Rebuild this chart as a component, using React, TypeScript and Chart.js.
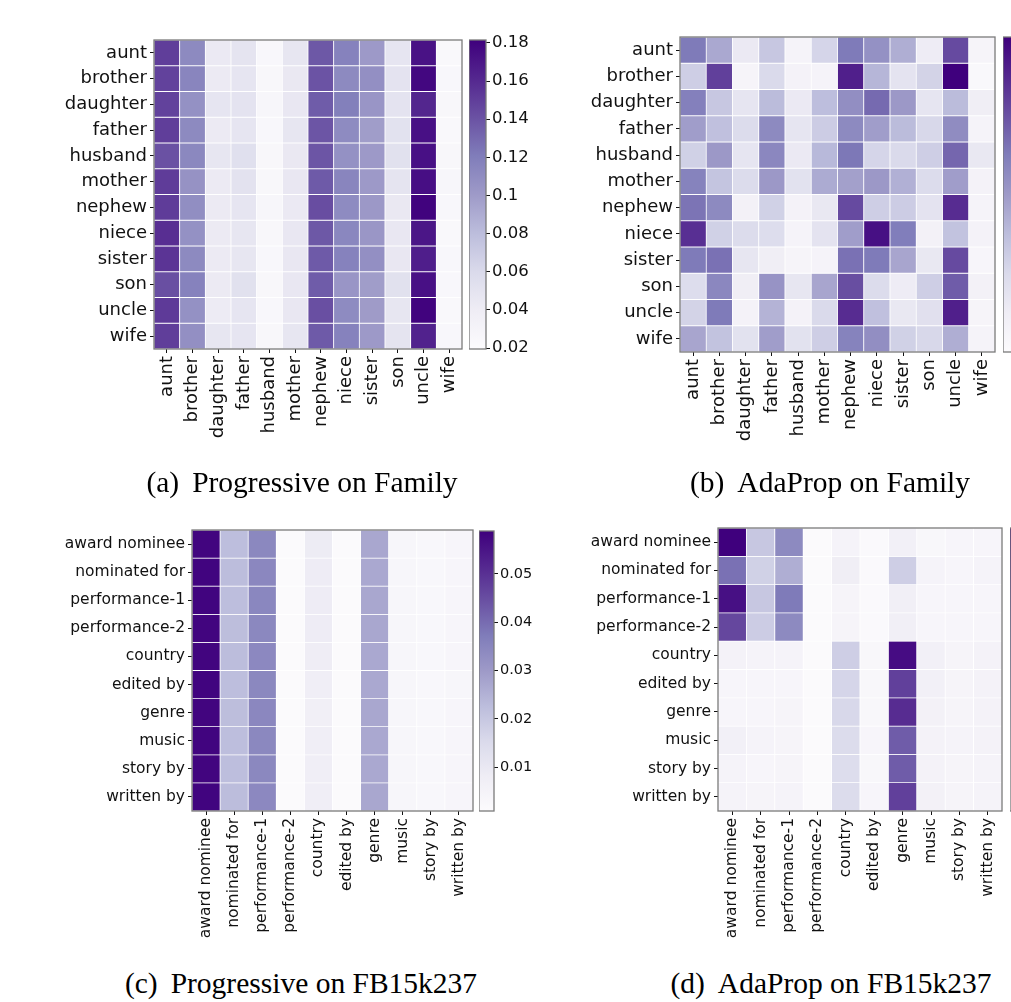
import React, { useEffect, useRef } from "react";
import { Chart, registerables } from "chart.js";
Chart.register(...registerables);

// ---------- data ----------
const familyRelations = ["aunt", "brother", "daughter", "father", "husband", "mother", "nephew", "niece", "sister", "son", "uncle", "wife"];
const fbRelations = ["award nominee", "nominated for", "performance-1", "performance-2", "country", "edited by", "genre", "music", "story by", "written by"];

const progressiveFamily = [
  [0.150, 0.112, 0.044, 0.049, 0.025, 0.047, 0.138, 0.117, 0.101, 0.048, 0.172, 0.024],
  [0.148, 0.115, 0.043, 0.048, 0.026, 0.045, 0.140, 0.112, 0.108, 0.050, 0.178, 0.025],
  [0.148, 0.107, 0.048, 0.050, 0.027, 0.046, 0.136, 0.119, 0.104, 0.050, 0.162, 0.026],
  [0.150, 0.112, 0.043, 0.048, 0.025, 0.047, 0.139, 0.111, 0.099, 0.052, 0.173, 0.024],
  [0.141, 0.113, 0.047, 0.054, 0.026, 0.045, 0.139, 0.107, 0.101, 0.053, 0.173, 0.026],
  [0.151, 0.106, 0.043, 0.051, 0.026, 0.046, 0.137, 0.115, 0.101, 0.049, 0.174, 0.027],
  [0.151, 0.109, 0.043, 0.048, 0.027, 0.044, 0.143, 0.111, 0.102, 0.045, 0.180, 0.025],
  [0.158, 0.107, 0.043, 0.047, 0.026, 0.046, 0.138, 0.114, 0.103, 0.046, 0.170, 0.024],
  [0.155, 0.112, 0.043, 0.047, 0.025, 0.046, 0.137, 0.117, 0.108, 0.046, 0.166, 0.025],
  [0.142, 0.117, 0.043, 0.053, 0.026, 0.046, 0.136, 0.104, 0.099, 0.053, 0.173, 0.025],
  [0.152, 0.107, 0.042, 0.048, 0.025, 0.046, 0.142, 0.111, 0.100, 0.047, 0.180, 0.024],
  [0.150, 0.108, 0.047, 0.048, 0.026, 0.047, 0.137, 0.117, 0.101, 0.049, 0.164, 0.025],
];

const adapropFamily = [
  [0.63, 0.45, 0.15, 0.33, 0.07, 0.27, 0.63, 0.54, 0.43, 0.13, 0.77, 0.06],
  [0.30, 0.80, 0.06, 0.25, 0.08, 0.07, 0.90, 0.40, 0.19, 0.28, 1.00, 0.03],
  [0.61, 0.33, 0.18, 0.38, 0.15, 0.37, 0.55, 0.68, 0.51, 0.18, 0.38, 0.12],
  [0.49, 0.36, 0.24, 0.57, 0.18, 0.31, 0.57, 0.49, 0.38, 0.26, 0.56, 0.07],
  [0.29, 0.51, 0.18, 0.58, 0.15, 0.39, 0.64, 0.27, 0.25, 0.30, 0.69, 0.16],
  [0.60, 0.34, 0.24, 0.51, 0.20, 0.44, 0.48, 0.51, 0.42, 0.24, 0.49, 0.08],
  [0.65, 0.57, 0.09, 0.29, 0.08, 0.16, 0.77, 0.30, 0.31, 0.19, 0.86, 0.07],
  [0.85, 0.29, 0.24, 0.23, 0.07, 0.19, 0.49, 0.95, 0.62, 0.09, 0.35, 0.08],
  [0.63, 0.66, 0.17, 0.12, 0.06, 0.07, 0.66, 0.63, 0.46, 0.16, 0.77, 0.05],
  [0.23, 0.58, 0.12, 0.53, 0.17, 0.46, 0.76, 0.24, 0.13, 0.30, 0.72, 0.09],
  [0.28, 0.63, 0.08, 0.41, 0.08, 0.25, 0.86, 0.36, 0.16, 0.21, 0.90, 0.06],
  [0.46, 0.35, 0.20, 0.49, 0.20, 0.30, 0.60, 0.55, 0.29, 0.26, 0.43, 0.07],
];

const progressiveFB = [
  [0.0580, 0.0224, 0.0345, 0.0015, 0.0087, 0.0014, 0.0272, 0.0037, 0.0031, 0.0039],
  [0.0581, 0.0226, 0.0346, 0.0015, 0.0085, 0.0014, 0.0271, 0.0036, 0.0031, 0.0038],
  [0.0582, 0.0223, 0.0347, 0.0015, 0.0084, 0.0014, 0.0273, 0.0036, 0.0030, 0.0038],
  [0.0580, 0.0225, 0.0344, 0.0015, 0.0084, 0.0014, 0.0272, 0.0036, 0.0031, 0.0038],
  [0.0579, 0.0226, 0.0343, 0.0015, 0.0083, 0.0014, 0.0270, 0.0037, 0.0031, 0.0038],
  [0.0581, 0.0224, 0.0345, 0.0015, 0.0074, 0.0014, 0.0271, 0.0036, 0.0031, 0.0037],
  [0.0580, 0.0225, 0.0346, 0.0015, 0.0073, 0.0014, 0.0272, 0.0036, 0.0030, 0.0038],
  [0.0582, 0.0223, 0.0344, 0.0015, 0.0074, 0.0014, 0.0271, 0.0036, 0.0031, 0.0038],
  [0.0580, 0.0224, 0.0345, 0.0015, 0.0075, 0.0014, 0.0270, 0.0037, 0.0031, 0.0038],
  [0.0581, 0.0226, 0.0343, 0.0015, 0.0076, 0.0014, 0.0272, 0.0036, 0.0031, 0.0039],
];

const adapropFB = [
  [1.00, 0.33, 0.57, 0.01, 0.07, 0.02, 0.10, 0.04, 0.05, 0.05],
  [0.66, 0.29, 0.43, 0.01, 0.12, 0.02, 0.30, 0.07, 0.05, 0.07],
  [0.95, 0.33, 0.63, 0.01, 0.06, 0.02, 0.11, 0.05, 0.05, 0.05],
  [0.78, 0.31, 0.57, 0.01, 0.06, 0.02, 0.11, 0.05, 0.05, 0.05],
  [0.08, 0.07, 0.07, 0.01, 0.30, 0.04, 0.96, 0.10, 0.06, 0.08],
  [0.05, 0.05, 0.05, 0.01, 0.27, 0.04, 0.80, 0.10, 0.06, 0.08],
  [0.05, 0.05, 0.06, 0.01, 0.26, 0.04, 0.86, 0.09, 0.06, 0.08],
  [0.10, 0.07, 0.06, 0.01, 0.24, 0.05, 0.72, 0.08, 0.07, 0.08],
  [0.07, 0.05, 0.06, 0.01, 0.23, 0.04, 0.72, 0.08, 0.06, 0.07],
  [0.07, 0.06, 0.07, 0.01, 0.24, 0.05, 0.80, 0.09, 0.06, 0.07],
];

const familyCbTicks = [0.02, 0.04, 0.06, 0.08, 0.1, 0.12, 0.14, 0.16, 0.18];
const familyCbLabels = ["0.02", "0.04", "0.06", "0.08", "0.1", "0.12", "0.14", "0.16", "0.18"];
const fbCbTicks = [0.01, 0.02, 0.03, 0.04, 0.05];
const fbCbLabels = ["0.01", "0.02", "0.03", "0.04", "0.05"];
const unitCbTicks = [0.2, 0.4, 0.6, 0.8];
const unitCbLabels = ["0.2", "0.4", "0.6", "0.8"];

// matplotlib "Purples"
const PURPLES = [
  [252, 251, 253], [239, 237, 245], [218, 218, 235], [188, 189, 220], [158, 154, 200],
  [128, 125, 186], [106, 81, 163], [84, 39, 143], [63, 0, 125],
];
function purple(t: number): string {
  const x = Math.max(0, Math.min(1, t)) * (PURPLES.length - 1);
  const i = Math.min(PURPLES.length - 2, Math.floor(x));
  const f = x - i;
  const a = PURPLES[i], b = PURPLES[i + 1];
  const c = a.map((v, k) => Math.round(v + (b[k] - v) * f));
  return `rgb(${c[0]},${c[1]},${c[2]})`;
}

const TICK_COLOR = "#111";
const FONT = "DejaVu Sans";

const framePlugin = {
  id: "frame",
  afterDraw(chart: any) {
    const { ctx, chartArea: a } = chart;
    ctx.save();
    ctx.strokeStyle = "#7a7a7a";
    ctx.lineWidth = 1.3;
    ctx.strokeRect(a.left, a.top, a.right - a.left, a.bottom - a.top);
    ctx.restore();
  },
};

type Box = { x: number; y: number; w: number; h: number };
type Area = { l: number; t: number; r: number; b: number };

function zeroPad(scale: any) {
  scale.paddingLeft = 0;
  scale.paddingRight = 0;
  scale.paddingTop = 0;
  scale.paddingBottom = 0;
}

function Heatmap(props: { rows: string[]; cols: string[]; values: number[][]; vmin: number; vmax: number; box: Box; area: Area; fontSize: number }) {
  const ref = useRef<HTMLCanvasElement | null>(null);
  useEffect(() => {
    const { rows, cols, values, vmin, vmax, box, area, fontSize } = props;
    const yW = area.l - box.x;
    const padR = box.x + box.w - area.r;
    const padT = area.t - box.y;
    const xH = box.y + box.h - area.b;
    const datasets = rows.map((_, r) => ({
      label: rows[r],
      data: cols.map(() => [r, r + 1]),
      backgroundColor: cols.map((_, c) => purple((values[r][c] - vmin) / (vmax - vmin))),
      borderColor: "#ffffff",
      borderWidth: 0.75,
      borderSkipped: false,
      grouped: false,
      barPercentage: 1,
      categoryPercentage: 1,
    }));
    const chart = new Chart(ref.current as HTMLCanvasElement, {
      type: "bar",
      data: { labels: cols, datasets: datasets as any },
      plugins: [framePlugin],
      options: {
        animation: false,
        responsive: false,
        devicePixelRatio: 1,
        layout: { padding: { left: 0, right: padR, top: padT, bottom: 0 } },
        plugins: { legend: { display: false }, tooltip: { enabled: false } },
        scales: {
          x: {
            type: "category",
            offset: true,
            grid: { offset: false, drawOnChartArea: false, drawTicks: true, tickLength: 4, color: TICK_COLOR },
            border: { display: false },
            ticks: { autoSkip: false, maxRotation: 90, minRotation: 90, padding: 3, color: TICK_COLOR, font: { family: FONT, size: fontSize } },
            afterFit: (s: any) => { s.height = xH; zeroPad(s); },
          },
          y: {
            type: "linear",
            min: 0,
            max: rows.length,
            reverse: true,
            grid: { drawOnChartArea: false, drawTicks: true, tickLength: 4, color: TICK_COLOR },
            border: { display: false },
            afterBuildTicks: (s: any) => { s.ticks = rows.map((_, i) => ({ value: i + 0.5 })); },
            ticks: {
              autoSkip: false,
              padding: 3,
              color: TICK_COLOR,
              font: { family: FONT, size: fontSize },
              callback: (v: any) => rows[Math.floor(Number(v))],
            },
            afterFit: (s: any) => { s.width = yW; zeroPad(s); },
          },
        },
      } as any,
    });
    return () => chart.destroy();
  }, []);
  const { box } = props;
  return <canvas ref={ref} width={box.w} height={box.h} style={{ position: "absolute", left: box.x, top: box.y, width: box.w, height: box.h }} />;
}

function Colorbar(props: { vmin: number; vmax: number; ticks: number[]; labels: string[]; box: Box; barW: number; padT: number; padB: number; fontSize: number }) {
  const ref = useRef<HTMLCanvasElement | null>(null);
  useEffect(() => {
    const { vmin, vmax, ticks, labels, box, barW, padT, padB, fontSize } = props;
    const chart = new Chart(ref.current as HTMLCanvasElement, {
      type: "bar",
      data: {
        labels: [""],
        datasets: [{
          data: [[vmin, vmax]] as any,
          backgroundColor: (ctx: any) => {
            const ch = ctx.chart;
            const y = ch.scales.y;
            if (!ch.chartArea || !y) return purple(0.5);
            const g = ch.ctx.createLinearGradient(0, y.getPixelForValue(vmin), 0, y.getPixelForValue(vmax));
            PURPLES.forEach((_, i) => g.addColorStop(i / (PURPLES.length - 1), purple(i / (PURPLES.length - 1))));
            return g;
          },
          borderWidth: 0,
          barPercentage: 1,
          categoryPercentage: 1,
        }],
      },
      plugins: [framePlugin],
      options: {
        animation: false,
        responsive: false,
        devicePixelRatio: 1,
        layout: { padding: { left: 0, right: 0, top: padT, bottom: padB } },
        plugins: { legend: { display: false }, tooltip: { enabled: false } },
        scales: {
          x: { type: "category", display: false, offset: true },
          y: {
            type: "linear",
            position: "right",
            min: vmin,
            max: vmax,
            grid: { drawOnChartArea: false, drawTicks: true, tickLength: 4, color: TICK_COLOR },
            border: { display: false },
            afterBuildTicks: (s: any) => { s.ticks = ticks.map((v) => ({ value: v })); },
            ticks: {
              autoSkip: false,
              padding: 2,
              color: TICK_COLOR,
              font: { family: FONT, size: fontSize },
              callback: (v: any) => {
                const i = ticks.findIndex((t) => Math.abs(t - Number(v)) < 1e-9);
                return i >= 0 ? labels[i] : "";
              },
            },
            afterFit: (s: any) => { s.width = box.w - barW; zeroPad(s); },
          },
        },
      } as any,
    });
    return () => chart.destroy();
  }, []);
  const { box } = props;
  return <canvas ref={ref} width={box.w} height={box.h} style={{ position: "absolute", left: box.x, top: box.y, width: box.w, height: box.h }} />;
}

function Caption(props: { label: string; text: string; cx: number; top: number }) {
  return (
    <div style={{ position: "absolute", left: props.cx - 250, width: 500, top: props.top, textAlign: "center", fontFamily: "'Liberation Serif', 'DejaVu Serif', serif", fontSize: 29.5, color: "#000", whiteSpace: "nowrap", lineHeight: "34px" }}>
      <span>{props.label}</span>
      <span style={{ marginLeft: 13 }}>{props.text}</span>
    </div>
  );
}

export default function App() {
  return (
    <div style={{ position: "fixed", left: 0, top: 0, width: 1011, height: 1002, overflow: "hidden", background: "#fff" }}>
      <Heatmap rows={familyRelations} cols={familyRelations} values={progressiveFamily} vmin={0.0195} vmax={0.1815}
        box={{ x: 0, y: 30, w: 470, h: 440 }} area={{ l: 154, t: 40, r: 462, b: 349 }} fontSize={18} />
      <Colorbar vmin={0.0195} vmax={0.1815} ticks={familyCbTicks} labels={familyCbLabels}
        box={{ x: 469, y: 30, w: 75, h: 330 }} barW={17} padT={10} padB={11} fontSize={16.5} />

      <Heatmap rows={familyRelations} cols={familyRelations} values={adapropFamily} vmin={0} vmax={1}
        box={{ x: 560, y: 27, w: 445, h: 445 }} area={{ l: 680, t: 37, r: 995, b: 352 }} fontSize={18} />
      <Colorbar vmin={0} vmax={1} ticks={unitCbTicks} labels={unitCbLabels}
        box={{ x: 1003, y: 27, w: 70, h: 335 }} barW={17} padT={10} padB={10} fontSize={16.5} />

      <Heatmap rows={fbRelations} cols={fbRelations} values={progressiveFB} vmin={0.0009} vmax={0.0589}
        box={{ x: 0, y: 520, w: 480, h: 440 }} area={{ l: 192, t: 530, r: 473, b: 811 }} fontSize={15.5} />
      <Colorbar vmin={0.0009} vmax={0.0589} ticks={fbCbTicks} labels={fbCbLabels}
        box={{ x: 479, y: 520, w: 70, h: 301 }} barW={15} padT={11} padB={10} fontSize={14.5} />

      <Heatmap rows={fbRelations} cols={fbRelations} values={adapropFB} vmin={0} vmax={1}
        box={{ x: 560, y: 518, w: 451, h: 440 }} area={{ l: 718, t: 528, r: 1002, b: 811 }} fontSize={15.5} />
      <Colorbar vmin={0} vmax={1} ticks={unitCbTicks} labels={unitCbLabels}
        box={{ x: 1010, y: 518, w: 70, h: 303 }} barW={15} padT={10} padB={10} fontSize={14.5} />

      <Caption label="(a)" text="Progressive on Family" cx={302} top={465} />
      <Caption label="(b)" text="AdaProp on Family" cx={830} top={465} />
      <Caption label="(c)" text="Progressive on FB15k237" cx={301} top={966} />
      <Caption label="(d)" text="AdaProp on FB15k237" cx={831} top={966} />
    </div>
  );
}
